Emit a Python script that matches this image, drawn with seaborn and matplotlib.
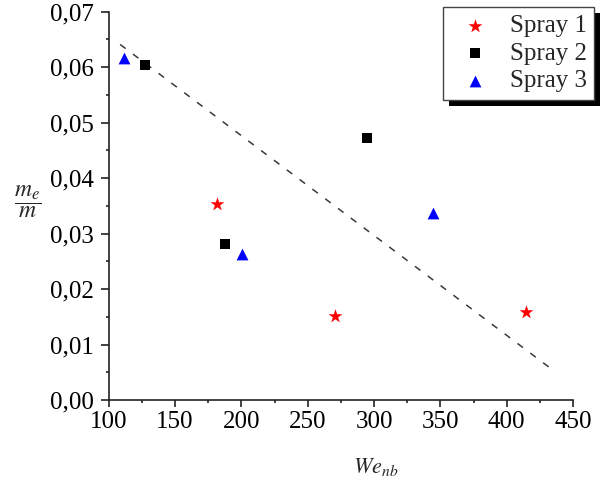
import matplotlib
matplotlib.use("Agg")
import matplotlib.pyplot as plt
import seaborn as sns
import pandas as pd
from matplotlib.ticker import MultipleLocator, FuncFormatter
from matplotlib.patches import Rectangle

# ---- data ----
spray1_x = [181.3, 270.6, 414.4]
spray1_y = [0.0353, 0.0151, 0.0159]
spray2_x = [127.6, 187.3, 294.7]
spray2_y = [0.0604, 0.0281, 0.0472]
spray3_x = [111.5, 200.2, 344.4]
spray3_y = [0.0616, 0.0263, 0.0338]
series_names = ["Spray 1", "Spray 2", "Spray 3"]
trend_x = [108.6, 434.8]
trend_y = [0.0641, 0.0054]
x_ticks = [100, 150, 200, 250, 300, 350, 400, 450]
y_ticks = [0.00, 0.01, 0.02, 0.03, 0.04, 0.05, 0.06, 0.07]

rows = []
for name, xs, ys in zip(series_names, [spray1_x, spray2_x, spray3_x],
                        [spray1_y, spray2_y, spray3_y]):
    for x, y in zip(xs, ys):
        rows.append({"We": x, "m": y, "Series": name})
df = pd.DataFrame(rows)

sns.set_style("ticks")
plt.rcParams["font.family"] = ["Liberation Serif", "DejaVu Serif"]
plt.rcParams["mathtext.fontset"] = "stix"

fig = plt.figure(figsize=(6.06, 4.78), dpi=100)
fig.patch.set_facecolor("white")
ax = fig.add_axes([108.7 / 606, 78 / 478, (573 - 108.7) / 606, (400 - 11.7) / 478])
ax.patch.set_visible(False)

sns.lineplot(x=trend_x, y=trend_y, ax=ax, color="#3a3a3a", lw=1.1,
             linestyle=(0, (4.5, 6)), zorder=1)

palette = {"Spray 1": "#ff0000", "Spray 2": "#000000", "Spray 3": "#0000ff"}
markers = {"Spray 1": "*", "Spray 2": "s", "Spray 3": "^"}
sizes = {"Spray 1": 110, "Spray 2": 45, "Spray 3": 72}
for name in series_names:
    sub = df[df["Series"] == name]
    sns.scatterplot(data=sub, x="We", y="m", ax=ax, color=palette[name],
                    marker=markers[name], s=sizes[name], linewidth=0,
                    label=name, zorder=3)

ax.set_xlim(100, 450)
ax.set_ylim(0, 0.07)
ax.set_xticks(x_ticks)
ax.set_yticks(y_ticks)
ax.xaxis.set_minor_locator(MultipleLocator(25))
ax.yaxis.set_minor_locator(MultipleLocator(0.005))
ax.yaxis.set_major_formatter(FuncFormatter(lambda v, p: f"{v:.2f}".replace(".", ",")))
ax.xaxis.set_major_formatter(FuncFormatter(lambda v, p: f"{int(round(v))}"))

for s in ["top", "right"]:
    ax.spines[s].set_visible(False)
for s in ["left", "bottom"]:
    ax.spines[s].set_linewidth(1.2)
    ax.spines[s].set_color("#222222")
ax.tick_params(which="major", direction="out", length=5, width=1.2,
               labelsize=18, colors="#222222", labelcolor="black", pad=3)
ax.tick_params(axis="y", which="major", length=5.5, pad=5)
ax.tick_params(which="minor", direction="out", length=2.5, width=1.2, colors="#222222")

ax.set_xlabel(r"$We_{nb}$", fontsize=16)
ax.xaxis.set_label_coords((376 - 108.7) / 464.3, -0.145)
ax.set_ylabel(r"$\dfrac{m_e}{m}$", fontsize=17, rotation=0, ha="center", va="center")
ax.yaxis.set_label_coords((28 - 108.7) / 464.3, 0.51)

leg = ax.legend(loc="upper right", bbox_to_anchor=(594 / 606, 1 - 7.3 / 478),
                bbox_transform=fig.transFigure, fontsize=18, frameon=True,
                fancybox=False, edgecolor="#444444", framealpha=1,
                handlelength=1.9, handletextpad=0.45, labelspacing=0.2,
                borderpad=0.3, borderaxespad=0)
leg.get_frame().set_linewidth(1.0)

fig.canvas.draw()
bb = leg.get_window_extent()
shadow = Rectangle((bb.x0 + 6, bb.y0 - 6), bb.width, bb.height, transform=None,
                   facecolor="black", edgecolor="none", zorder=-1)
fig.patches.append(shadow)

fig.savefig("out.png", dpi=100, facecolor="white")
